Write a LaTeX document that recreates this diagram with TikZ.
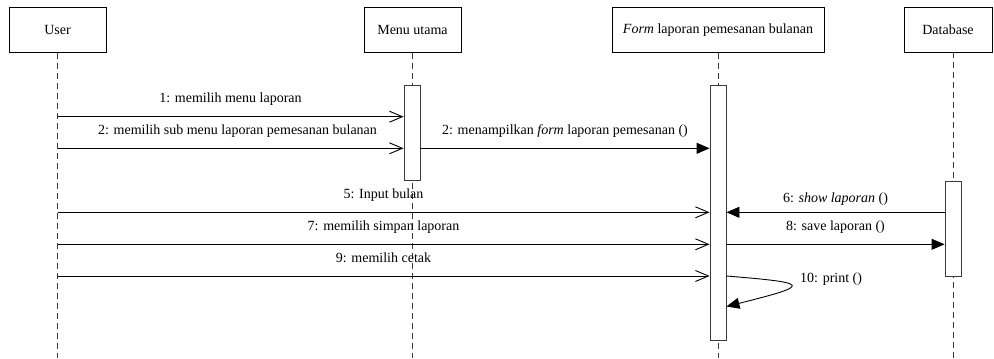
\documentclass[tikz,border=0pt]{standalone}
\usepackage{fontspec}
\setmainfont{Liberation Serif}
\usepackage{xcolor}
\definecolor{cMain}{HTML}{000000}
\definecolor{cGray}{HTML}{3A3A3A}
\usetikzlibrary{positioning,arrows.meta}
\tikzset{
  head-box/.style={draw=cMain,line width=0.9bp,minimum height=45bp,
    minimum width=97bp,inner sep=0pt,font=\fontsize{14bp}{16bp}\selectfont},
  act-bar/.style={draw=cGray,fill=white,line width=0.9bp,minimum width=16bp,
    inner sep=0pt,anchor=north},
  lifeline/.style={draw=cGray,line width=0.9bp,dash pattern=on 6bp off 4bp},
  msg-call/.style={-{Straight Barb[length=13bp,width=11bp]},line width=0.9bp,draw=cMain},
  msg-sync/.style={-{Triangle[length=13bp,width=11bp]},line width=0.9bp,draw=cMain},
  msg-label/.style={anchor=base,inner sep=0pt,yshift=14bp,
    font=\fontsize{14bp}{16bp}\selectfont},
}

\begin{document}
\begin{tikzpicture}[x=1bp,y=-1bp]
  \useasboundingbox (0,0) rectangle (994,358);

  % objects
  \node[head-box] (user) at (57.5,29.8) {User};
  \node[head-box] (menu) at (412.5,29.8) {Menu utama};
  \node[head-box,minimum width=212bp] (form) at (718,29.8) {\textit{Form} laporan pemesanan bulanan};
  \node[head-box,minimum width=88bp] (db) at (948,29.8) {Database};

  % lifelines
  \coordinate (bottom) at (0,358);
  \coordinate (db-top) at (953,52.3);
  \draw[lifeline] (user) -- (user |- bottom);
  \draw[lifeline] (menu) -- (menu |- bottom);
  \draw[lifeline] (form) -- (form |- bottom);
  \draw[lifeline] (db-top) -- (db-top |- bottom);

  % activations
  \node[act-bar,minimum height=95bp] (menu-act) at (412,85) {};
  \node[act-bar,minimum height=255bp] (form-act) at (718,85) {};
  \node[act-bar,minimum height=95bp] (db-act) at (953,181) {};

  % message levels
  \coordinate (m1) at (0,116.7);
  \coordinate (m2) at (0,148.3);
  \coordinate (m5) at (0,212.3);
  \coordinate (m7) at (0,244.3);
  \coordinate (m9) at (0,276);
  \coordinate (m10) at (0,306.5);

  \draw[msg-call] (user |- m1) -- (menu-act.west |- m1)
    node[msg-label,midway] {1: memilih menu laporan};
  \draw[msg-call] (user |- m2) -- (menu-act.west |- m2)
    node[msg-label,midway,xshift=7bp] {2: memilih sub menu laporan pemesanan bulanan};
  \draw[msg-sync] (menu-act.east |- m2) -- (form-act.west |- m2)
    node[msg-label,midway] {2: menampilkan \textit{form} laporan pemesanan ()};
  \draw[msg-call] (user |- m5) -- (form-act.west |- m5)
    node[msg-label,midway] {5: Input bulan};
  \draw[msg-sync] (db-act.west |- m5) -- (form-act.east |- m5)
    node[msg-label,midway,yshift=-4.5bp] {6: \textit{show laporan} ()};
  \draw[msg-call] (user |- m7) -- (form-act.west |- m7)
    node[msg-label,midway] {7: memilih simpan laporan};
  \draw[msg-sync] (form-act.east |- m7) -- (db-act.west |- m7)
    node[msg-label,midway] {8: save laporan ()};
  \draw[msg-call] (user |- m9) -- (form-act.west |- m9)
    node[msg-label,midway] {9: memilih cetak};

  % self call
  \draw[msg-sync] (form-act.east |- m9) .. controls (812,283) and (812,285) .. (form-act.east |- m10);
  \node[msg-label,anchor=base west,yshift=0pt] (print-lbl) at (800,296) {10: print ()};
\end{tikzpicture}
\end{document}
